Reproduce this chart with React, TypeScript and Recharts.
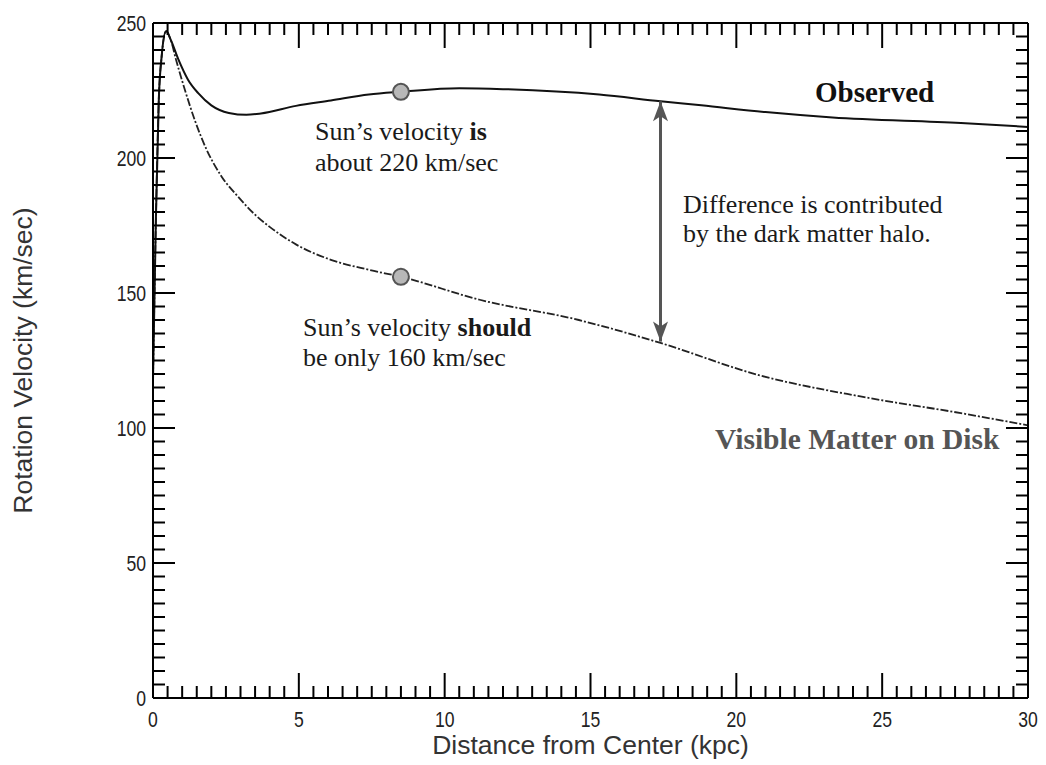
import {
  ComposedChart, Line, Scatter, XAxis, YAxis, ReferenceLine,
} from 'recharts';

// rotation curve of the Milky Way (kpc, km/sec)
const observed = [
  { r: 0, v: 118 }, { r: 0.1, v: 178 }, { r: 0.2, v: 222 }, { r: 0.3, v: 238 },
  { r: 0.45, v: 247 }, { r: 0.6, v: 244 }, { r: 0.87, v: 236.5 }, { r: 1.2, v: 229 },
  { r: 1.55, v: 224 }, { r: 2.0, v: 219.5 }, { r: 2.6, v: 216.7 }, { r: 3.2, v: 216 },
  { r: 3.7, v: 216.5 }, { r: 4.9, v: 219.3 }, { r: 6.1, v: 221.3 }, { r: 7.4, v: 223.5 },
  { r: 8.5, v: 224.5 }, { r: 10.5, v: 225.8 }, { r: 12, v: 225.5 }, { r: 15.3, v: 223.5 },
  { r: 17.4, v: 221 }, { r: 18.8, v: 219.5 }, { r: 21, v: 217 }, { r: 23.3, v: 215 },
  { r: 27.7, v: 213 }, { r: 30, v: 211.5 },
];

const visible = [
  { r: 0, v: 118 }, { r: 0.1, v: 178 }, { r: 0.2, v: 222 }, { r: 0.3, v: 238 },
  { r: 0.45, v: 247 }, { r: 0.6, v: 244 }, { r: 0.8, v: 236 }, { r: 1.1, v: 225 },
  { r: 1.45, v: 213.5 }, { r: 1.8, v: 204 }, { r: 2.36, v: 193 }, { r: 2.93, v: 185.5 },
  { r: 3.5, v: 179 }, { r: 4.0, v: 174.5 }, { r: 4.9, v: 168 }, { r: 6.1, v: 162.3 },
  { r: 7.4, v: 158.6 }, { r: 8.5, v: 156 }, { r: 11.2, v: 147.5 }, { r: 14.6, v: 140 },
  { r: 17.4, v: 131.5 }, { r: 20.8, v: 119.5 }, { r: 24.3, v: 111.6 }, { r: 27.7, v: 105.5 },
  { r: 30, v: 101 },
];

const sunPoints = [{ r: 8.5, v: 224.5 }, { r: 8.5, v: 156 }];
const haloGap = { r: 17.4, top: 221, bottom: 132 };

// ticks: minor every 0.5 kpc / 5 km/sec, labelled every 5 / 50
const xTicks = Array.from({ length: 61 }, (_, i) => i * 0.5);
const yTicks = Array.from({ length: 51 }, (_, i) => i * 5);

const TICK_FONT = { fontFamily: '"Liberation Sans", Arial, sans-serif', fontSize: 22, fill: '#222' };
const TITLE_FONT = { fontFamily: '"Liberation Sans", Arial, sans-serif', fontSize: 26.5, fill: '#333' };
const SERIF = '"Liberation Serif", "Times New Roman", serif';

// the tick digits in the picture are narrow, so squeeze them a little
const TickText = ({ x, y, anchor, children }: any) => (
  <g transform={`translate(${x},${y}) scale(0.8,1)`}>
    <text x={0} y={0} textAnchor={anchor} {...TICK_FONT}>{children}</text>
  </g>
);

const XTick = ({ x, y, payload, top }: any) => {
  const v = payload.value;
  const major = v % 5 === 0;
  const len = major ? 25 : 12;
  return (
    <g>
      <line x1={x} y1={y} x2={x} y2={top ? y + len : y - len} stroke="#000" strokeWidth={2} />
      {!top && major && <TickText x={x} y={y + 29} anchor="middle">{v}</TickText>}
    </g>
  );
};

const YTick = ({ x, y, payload, right }: any) => {
  const v = payload.value;
  const major = v % 50 === 0;
  const len = major ? 22 : 12;
  return (
    <g>
      <line x1={x} y1={y} x2={right ? x - len : x + len} y2={y} stroke="#000" strokeWidth={2} />
      {!right && major && <TickText x={x - 7} y={y + 8} anchor="end">{v}</TickText>}
    </g>
  );
};

const SunDot = ({ cx, cy }: any) => (
  <circle cx={cx} cy={cy} r={8} fill="#b8b8b8" stroke="#555" strokeWidth={2} />
);

export default function App() {
  return (
    <div style={{ position: 'absolute', left: 0, top: 0, width: 1046, height: 765, background: '#fff' }}>
      <svg width={0} height={0} style={{ position: 'absolute' }}>
        <defs>
          <marker id="gapHead" viewBox="0 0 20 15" refX={20} refY={7.5}
            markerWidth={7} markerHeight={5} orient="auto-start-reverse">
            <path d="M0,0 L20,7.5 L0,15 L5,7.5 z" fill="#555" />
          </marker>
        </defs>
      </svg>
      <ComposedChart width={1046} height={765} margin={{ top: 22, right: 17, left: 0, bottom: 0 }}>
        <XAxis dataKey="r" type="number" domain={[0, 30]} ticks={xTicks} interval={0}
          tickSize={0} tickMargin={0} tick={<XTick />} height={67}
          axisLine={{ stroke: '#000', strokeWidth: 2 }} allowDataOverflow
          label={{ value: 'Distance from Center (kpc)', position: 'insideBottom', offset: 11,
            style: TITLE_FONT }} />
        <XAxis xAxisId="top" orientation="top" dataKey="r" type="number" domain={[0, 30]}
          ticks={xTicks} interval={0} tickSize={0} tickMargin={0} tick={<XTick top />}
          height={1} axisLine={{ stroke: '#000', strokeWidth: 2 }} allowDataOverflow />
        <YAxis type="number" domain={[0, 250]} ticks={yTicks} interval={0}
          tickSize={0} tickMargin={0} tick={<YTick />} width={153}
          axisLine={{ stroke: '#000', strokeWidth: 2 }} allowDataOverflow
          label={{ value: 'Rotation Velocity (km/sec)', angle: -90, position: 'insideLeft', offset: 23,
            style: { ...TITLE_FONT, textAnchor: 'middle' } }} />
        <YAxis yAxisId="right" orientation="right" type="number" domain={[0, 250]} ticks={yTicks}
          interval={0} tickSize={0} tickMargin={0} tick={<YTick right />} width={1}
          axisLine={{ stroke: '#000', strokeWidth: 2 }} allowDataOverflow />

        {/* visible-matter curve sits on the top/right axes (same scale) so those frame axes get drawn */}
        <Line data={visible} dataKey="v" xAxisId="top" yAxisId="right" type="monotone" stroke="#222"
          strokeWidth={1.8} strokeDasharray="8 2 2 2" dot={false} isAnimationActive={false} />
        <Line data={observed} dataKey="v" type="monotone" stroke="#111" strokeWidth={2}
          dot={false} isAnimationActive={false} />
        <ReferenceLine segment={[{ x: haloGap.r, y: haloGap.top }, { x: haloGap.r, y: haloGap.bottom }]}
          stroke="#555" strokeWidth={3} markerStart="url(#gapHead)" markerEnd="url(#gapHead)" />
        <Scatter data={sunPoints} dataKey="v" shape={<SunDot />} isAnimationActive={false} />
      </ComposedChart>

      <svg width={1046} height={765} style={{ position: 'absolute', left: 0, top: 0, pointerEvents: 'none' }}>
        <g fontFamily={SERIF} fontSize={26} fill="#1a1a1a">
          <text x={315} y={140}>Sun’s velocity <tspan fontWeight="bold">is</tspan></text>
          <text x={315} y={171}>about 220 km/sec</text>
          <text x={303} y={336}>Sun’s velocity <tspan fontWeight="bold">should</tspan></text>
          <text x={303} y={366}>be only 160 km/sec</text>
          <text x={683} y={213}>Difference is contributed</text>
          <text x={683} y={242}>by the dark matter halo.</text>
        </g>
        <text x={815} y={102} fontFamily={SERIF} fontSize={29} fontWeight="bold" fill="#111">Observed</text>
        <text x={715} y={449} fontFamily={SERIF} fontSize={29.5} fontWeight="bold" fill="#555">Visible Matter on Disk</text>
      </svg>
    </div>
  );
}
